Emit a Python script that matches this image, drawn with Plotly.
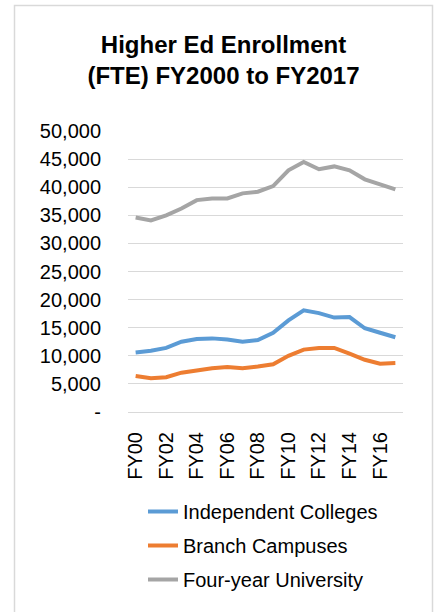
import plotly.graph_objects as go

years = ["FY00", "FY01", "FY02", "FY03", "FY04", "FY05", "FY06", "FY07", "FY08",
         "FY09", "FY10", "FY11", "FY12", "FY13", "FY14", "FY15", "FY16", "FY17"]
independent = [10600, 10900, 11400, 12500, 13000, 13100, 12900, 12500, 12800,
               14100, 16300, 18100, 17600, 16800, 16900, 14900, 14100, 13300]
branch = [6400, 6000, 6200, 7000, 7400, 7800, 8000, 7800, 8100,
          8500, 10000, 11100, 11400, 11400, 10400, 9300, 8600, 8700]
four_year = [34600, 34100, 35000, 36200, 37700, 38000, 38000, 38900, 39200,
             40200, 43000, 44500, 43200, 43700, 43000, 41400, 40500, 39600]
series_names = ["Independent Colleges", "Branch Campuses", "Four-year University"]
colors = ["#5B9BD5", "#ED7D31", "#A5A5A5"]
y_ticks = [0, 5000, 10000, 15000, 20000, 25000, 30000, 35000, 40000, 45000, 50000]
y_ticktext = ["-"] + [f"{v:,}" for v in y_ticks[1:]]
x_tickvals = years[::2]

W, H = 436, 612
L, R, T, B = 128, 33, 131, 200
pw, ph = W - L - R, H - T - B

def px_x(x):
    return (x - L) / pw

def px_y(y):
    return (H - B - y) / ph

fig = go.Figure()
for name, vals, col in zip(series_names, [independent, branch, four_year], colors):
    fig.add_trace(go.Scatter(x=years, y=vals, name=name, mode="lines",
                             line=dict(color=col, width=4), legendgroup=name))

font_family = "Liberation Sans, Arial, sans-serif"
fig.update_layout(
    width=W, height=H,
    margin=dict(l=L, r=R, t=T, b=B),
    paper_bgcolor="white", plot_bgcolor="white",
    font=dict(family=font_family, color="#000000", size=20),
    title=dict(text="<b>Higher Ed Enrollment<br>(FTE) FY2000 to FY2017</b>",
               x=223.5 / W, xanchor="center", y=1 - 53 / H, yanchor="top",
               font=dict(size=24, family=font_family, color="#000000")),
    xaxis=dict(type="category", range=[-0.5, 17.5], tickmode="array",
               tickvals=x_tickvals, ticktext=x_tickvals, tickangle=-90,
               showgrid=False, zeroline=False, showline=False, ticks="",
               ticklabelstandoff=15, tickfont=dict(size=20, color="#000000")),
    yaxis=dict(range=[0, 50000], tickmode="array", tickvals=y_ticks, ticktext=y_ticktext,
               showgrid=True, gridcolor="#D9D9D9", gridwidth=1, zeroline=True,
               zerolinecolor="#D9D9D9", zerolinewidth=1, showline=False, ticks="",
               ticklabelstandoff=26, tickfont=dict(size=20, color="#000000")),
    showlegend=True,
    legend=dict(x=px_x(143), xanchor="left", y=px_y(492), yanchor="top",
                orientation="v", traceorder="grouped", tracegroupgap=5,
                font=dict(size=20, color="#000000"), bgcolor="rgba(0,0,0,0)"),
    shapes=[dict(type="rect", xref="paper", yref="paper",
                 x0=px_x(14.5), x1=px_x(432.5), y0=px_y(640), y1=px_y(5.5),
                 line=dict(color="#D9D9D9", width=1.5), fillcolor="rgba(0,0,0,0)",
                 layer="below")],
)
fig.write_html("out.html")
